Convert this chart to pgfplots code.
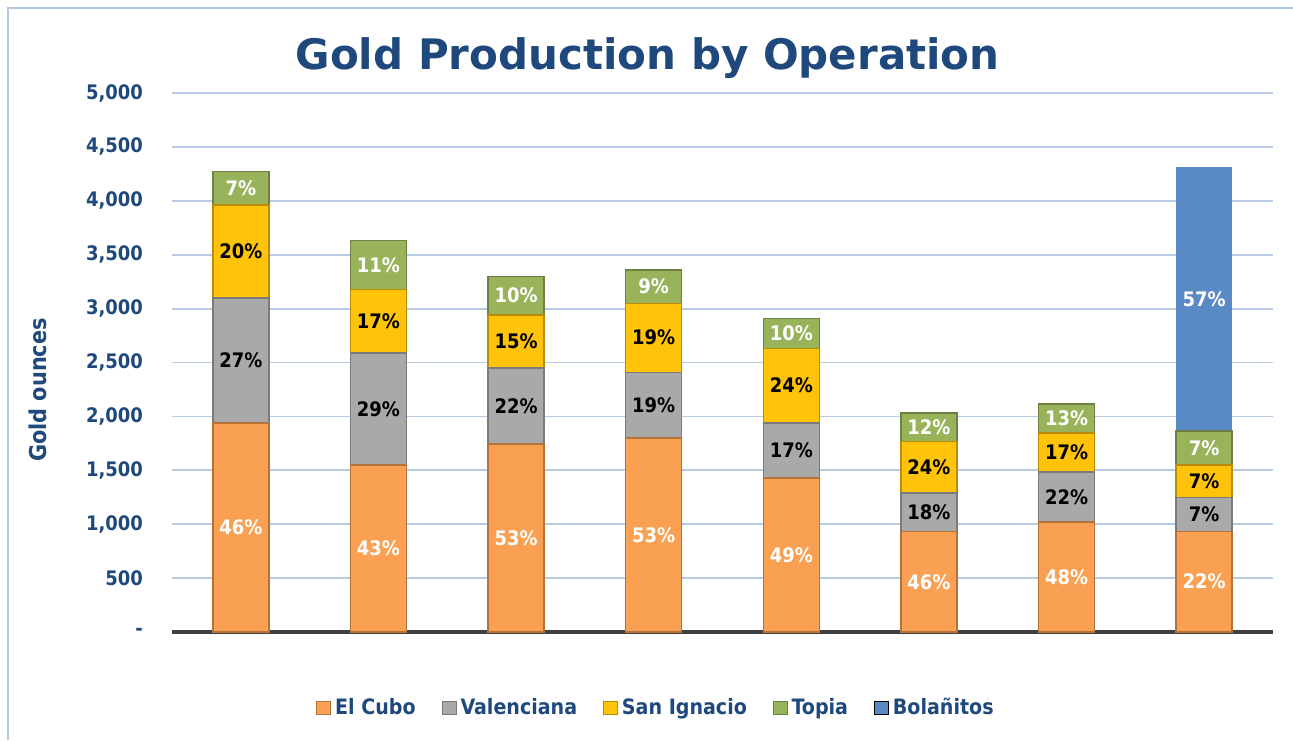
\documentclass[border=0pt]{standalone}
\usepackage{fontspec}
\setmainfont{DejaVu Sans Condensed}
\newfontfamily\titlefont{DejaVu Sans}
\usepackage{pgfplots}
\pgfplotsset{compat=1.18}

\definecolor{titleBlue}{HTML}{1F497D}
\definecolor{gridBlue}{HTML}{B7CBE4}
\definecolor{frameBlue}{HTML}{B4C7E7}
\definecolor{axisGray}{HTML}{404040}
\definecolor{cuboOrange}{HTML}{F9A052}
\definecolor{valGray}{HTML}{A9A9A9}
\definecolor{sanYellow}{HTML}{FFC30A}
\definecolor{topiaGreen}{HTML}{99B35B}
\definecolor{bolBlue}{HTML}{5A8AC6}

\tikzset{lbl/.style={font=\bfseries\fontsize{10}{12}\selectfont}}
\pgfplotsset{
  geom/.style={at={(86pt,54pt)}, anchor=south west, scale only axis,
               width=550.5pt, height=269.5pt,
               xmin=-0.5, xmax=7.5, ymin=0, ymax=5000},
  seg/.style={fill=#1, draw=#1!72!black, line width=0.7pt}
}

\begin{document}
\begin{tikzpicture}[x=1pt,y=1pt]
\useasboundingbox (0,0) rectangle (646.5,370);
\draw[frameBlue, line width=0.9pt] (4,0) -- (4,366) -- (646.5,366);

\begin{axis}[
  geom,
  ybar stacked, bar width=28pt,
  ytick={0,500,...,5000},
  yticklabels={{-\hspace{7pt}},500,{1,000},{1,500},{2,000},{2,500},{3,000},{3,500},{4,000},{4,500},{5,000}},
  xtick=\empty,
  major tick length=0pt,
  ymajorgrids, grid style={gridBlue, line width=0.9pt},
  axis lines*=left,
  axis line style={-},
  y axis line style={draw=none},
  x axis line style={axisGray, line width=2pt},
  yticklabel style={lbl, text=titleBlue, xshift=-11pt},
  title={\titlefont\bfseries\fontsize{21}{25}\selectfont Gold Production by Operation},
  title style={at={(axis description cs:0.432,1.043)}, anchor=center, text=titleBlue},
  ylabel={Gold ounces},
  ylabel style={font=\bfseries\fontsize{11.6}{14}\selectfont, text=titleBlue,
                at={(axis description cs:-0.122,0.449)}, anchor=center},
  legend style={at={(axis description cs:0.4405,-0.141)}, anchor=center,
                draw=none, fill=none, font=\bfseries\fontsize{10.6}{13}\selectfont,
                text=titleBlue,
                /tikz/every even column/.append style={column sep=11pt}},
  legend columns=-1,
  legend image code/.code={\draw[#1, line width=0.4pt] (0pt,-3.2pt) rectangle (7pt,3.3pt);},
]
  \addplot[seg=cuboOrange] coordinates {
    (0,1940) (1,1550) (2,1745) (3,1800) (4,1430) (5,930) (6,1020) (7,935)};
  \addplot[seg=valGray] coordinates {
    (0,1160) (1,1040) (2,705) (3,610) (4,510) (5,360) (6,465) (7,315)};
  \addplot[seg=sanYellow] coordinates {
    (0,860) (1,590) (2,490) (3,640) (4,690) (5,480) (6,360) (7,300)};
  \addplot[seg=topiaGreen] coordinates {
    (0,310) (1,450) (2,360) (3,310) (4,280) (5,260) (6,270) (7,315)};
  \addplot[fill=bolBlue, draw=none] coordinates {
    (0,0) (1,0) (2,0) (3,0) (4,0) (5,0) (6,0) (7,2450)};
  \legend{El Cubo, Valenciana, San Ignacio, Topia, Bolañitos}
\end{axis}

% percentage labels, centred in each segment
\begin{axis}[
  geom, hide axis,
  nodes near coords, point meta=explicit symbolic,
  nodes near coords align=center,
  every node near coord/.append style={lbl, anchor=center},
]
  \addplot[draw=none, every node near coord/.append style={text=white}] coordinates {
    (0,970)[46\%] (1,775)[43\%] (2,872)[53\%] (3,900)[53\%]
    (4,715)[49\%] (5,465)[46\%] (6,510)[48\%] (7,467)[22\%]
    (0,4115)[7\%] (1,3405)[11\%] (2,3120)[10\%] (3,3205)[9\%]
    (4,2770)[10\%] (5,1900)[12\%] (6,1980)[13\%] (7,1708)[7\%]
    (7,3090)[57\%]};
  \addplot[draw=none, every node near coord/.append style={text=black}] coordinates {
    (0,2520)[27\%] (1,2070)[29\%] (2,2097)[22\%] (3,2105)[19\%]
    (4,1685)[17\%] (5,1110)[18\%] (6,1252)[22\%] (7,1092)[7\%]
    (0,3530)[20\%] (1,2885)[17\%] (2,2695)[15\%] (3,2730)[19\%]
    (4,2285)[24\%] (5,1530)[24\%] (6,1665)[17\%] (7,1400)[7\%]};
\end{axis}
\end{tikzpicture}
\end{document}
